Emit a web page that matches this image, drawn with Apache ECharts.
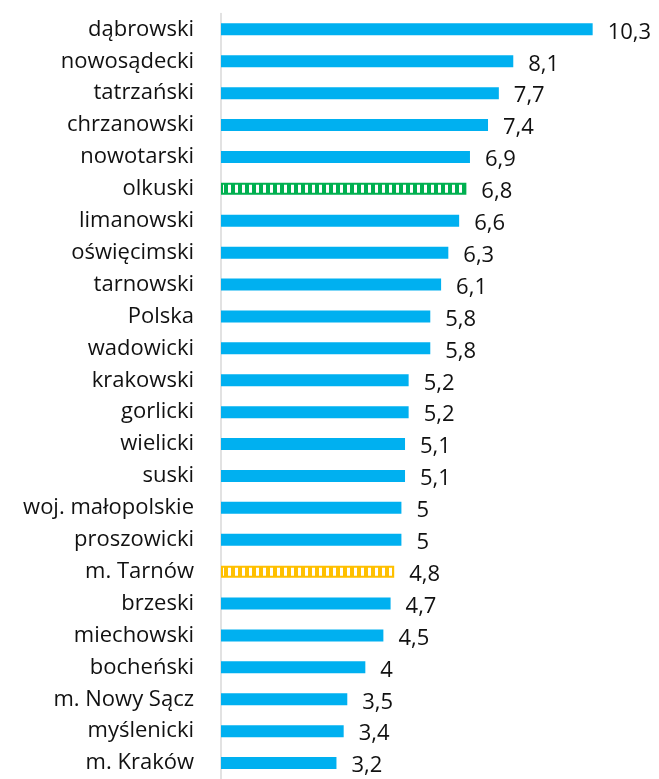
<!DOCTYPE html>
<html>
<head>
<meta charset="utf-8">
<script src="https://cdn.jsdelivr.net/npm/echarts@6/dist/echarts.min.js"></script>
<style>
  html, body { margin: 0; padding: 0; background: #fff; }
  #chart { width: 659px; height: 779px; }
</style>
</head>
<body>
<div id="chart"></div>
<script>
const categories = ['dąbrowski', 'nowosądecki', 'tatrzański', 'chrzanowski', 'nowotarski', 'olkuski',
    'limanowski', 'oświęcimski', 'tarnowski', 'Polska', 'wadowicki', 'krakowski', 'gorlicki',
    'wielicki', 'suski', 'woj. małopolskie', 'proszowicki', 'm. Tarnów', 'brzeski', 'miechowski',
    'bocheński', 'm. Nowy Sącz', 'myślenicki', 'm. Kraków'];
const values = [10.3, 8.1, 7.7, 7.4, 6.9, 6.8, 6.6, 6.3, 6.1, 5.8, 5.8, 5.2, 5.2, 5.1, 5.1, 5, 5, 4.8,
    4.7, 4.5, 4, 3.5, 3.4, 3.2];
// highlighted rows get a striped fill
const highlight = { 'olkuski': '#00B050', 'm. Tarnów': '#FFC000' };

function stripes(color) {
    const c = document.createElement('canvas');
    c.width = 7;
    c.height = 12;
    const ctx = c.getContext('2d');
    ctx.fillStyle = color;
    ctx.fillRect(0, 0, 7, 12);
    ctx.fillStyle = '#ffffff';
    ctx.fillRect(4, 0, 3, 12);
    return { image: c, repeat: 'repeat' };
}

const chart = echarts.init(document.getElementById('chart'));

const data = values.map((v, i) => {
    const col = highlight[categories[i]];
    if (!col) return v;
    return {
        value: v,
        itemStyle: { color: stripes(col), borderColor: col, borderWidth: 2 }
    };
});

chart.setOption({
    animation: false,
    grid: { left: 221, right: 5, top: 13.4, bottom: -5.6, containLabel: false },
    xAxis: {
        type: 'value',
        min: 0,
        max: 12,
        show: false
    },
    yAxis: {
        type: 'category',
        inverse: true,
        data: categories,
        axisLine: { lineStyle: { color: '#d9d9d9', width: 1.5 } },
        axisTick: { show: false },
        axisLabel: {
            margin: 27,
            color: '#111',
            fontFamily: 'Open Sans',
            fontSize: 22
        }
    },
    series: [{
        type: 'bar',
        data: data,
        barWidth: 12,
        itemStyle: { color: '#00B0F0' },
        label: {
            show: true,
            position: 'right',
            distance: 15,
            color: '#111',
            fontFamily: 'Open Sans',
            fontSize: 22,
            offset: [0, 3],
            formatter: p => String(p.value).replace('.', ',')
        }
    }]
});
</script>
</body>
</html>
